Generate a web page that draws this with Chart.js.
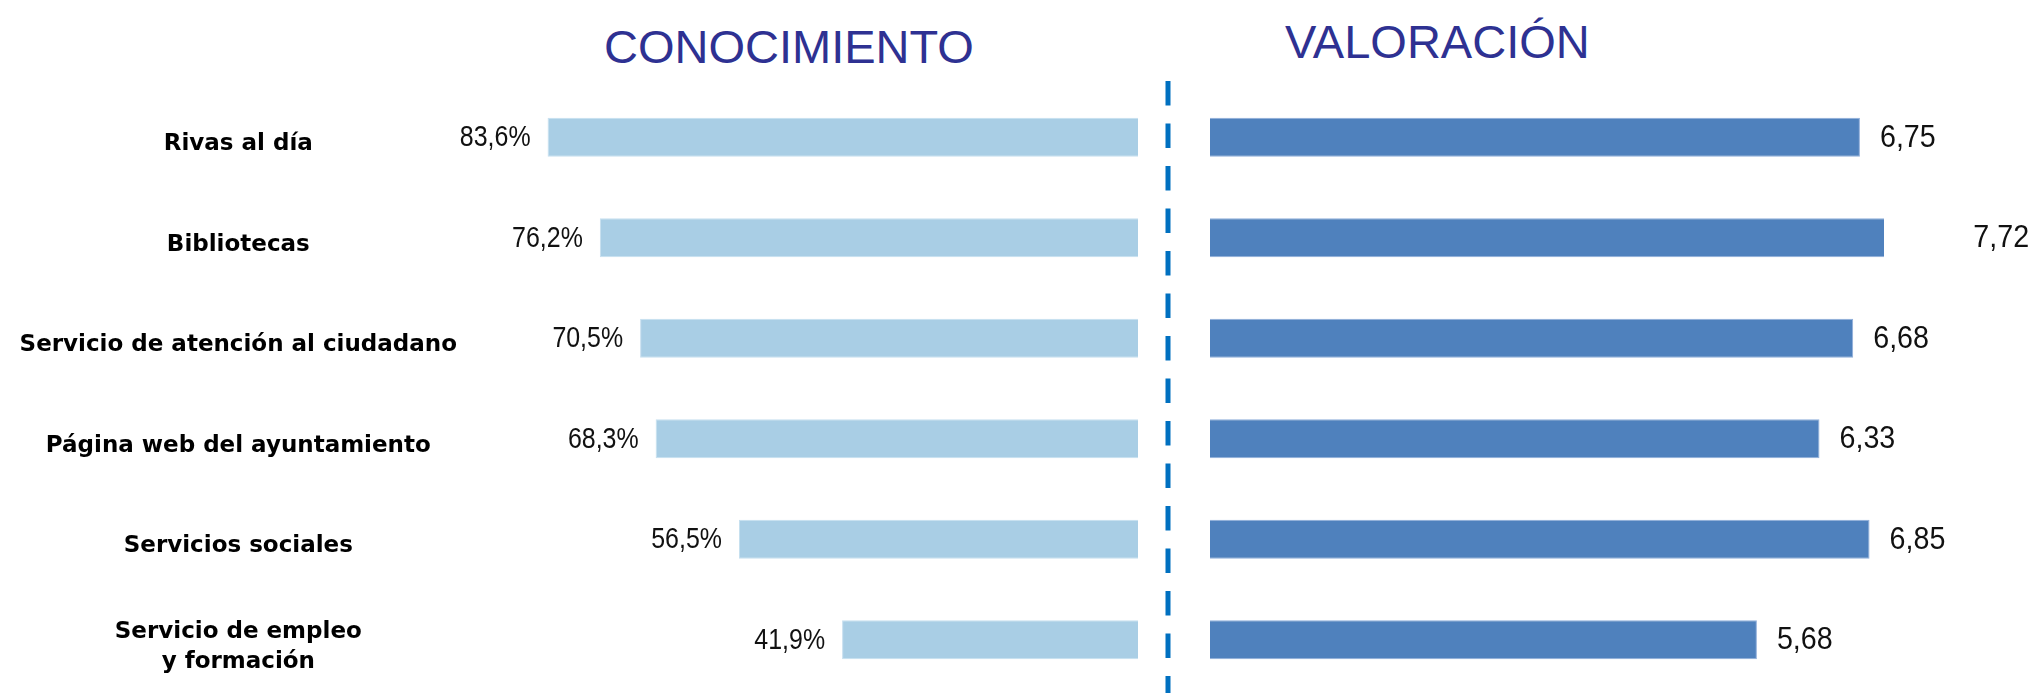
<!DOCTYPE html>
<html>
<head>
<meta charset="utf-8">
<script src="https://cdn.jsdelivr.net/npm/chart.js@4.4.0/dist/chart.umd.min.js"></script>
<style>
  body { margin: 0; background: #fff; width: 2033px; height: 693px; overflow: hidden; position: relative; }
  .title { position: absolute; font-family: "Liberation Sans", Arial, sans-serif; font-size: 47px; line-height: 47px; color: #2E3192; white-space: nowrap; }
  #leftBox { position: absolute; left: 0; top: 0; width: 1150px; height: 693px; }
  #rightBox { position: absolute; left: 1150px; top: 0; width: 883px; height: 693px; }
</style>
</head>
<body>
<div class="title" style="left:604px; top:23px;">CONOCIMIENTO</div>
<div class="title" style="left:1285px; top:18px;">VALORACIÓN</div>
<div id="leftBox"><canvas id="knowGraph"></canvas></div>
<div id="rightBox"><canvas id="rateGraph"></canvas></div>
<script>
const services = [
  'Rivas al día',
  'Bibliotecas',
  'Servicio de atención al ciudadano',
  'Página web del ayuntamiento',
  'Servicios sociales',
  ['Servicio de empleo', 'y formación']
];
const knowledge = [83.6, 76.2, 70.5, 68.3, 56.5, 41.9];   // % que conoce el servicio
const rating = [6.75, 7.72, 6.68, 6.33, 6.85, 5.68];      // nota media

// numbers next to the end of each bar, spanish decimal comma
const valueLabels = {
  id: 'valueLabels',
  afterDatasetsDraw(chart, args, opts) {
    const ctx = chart.ctx;
    const meta = chart.getDatasetMeta(0);
    const values = chart.data.datasets[0].data;
    ctx.save();
    ctx.font = opts.font;
    ctx.fillStyle = '#111';
    ctx.textBaseline = 'middle';
    ctx.textAlign = opts.align;
    meta.data.forEach((bar, i) => {
      const x = chart.scales.x.getPixelForValue(values[i]) + opts.gap;
      const txt = values[i].toFixed(opts.decimals).replace('.', ',') + opts.suffix;
      ctx.save();
      ctx.translate(x, bar.y + 1);
      ctx.scale(opts.squeeze, 1);   // the original font is a narrow one
      ctx.fillText(txt, 0, 0);
      ctx.restore();
    });
    ctx.restore();
  }
};

// blue dashed divider between the two halves
const divider = {
  id: 'divider',
  afterDraw(chart, args, opts) {
    const ctx = chart.ctx;
    ctx.save();
    ctx.strokeStyle = '#0070C0';
    ctx.lineWidth = 5;
    ctx.setLineDash([24.5, 18]);
    ctx.beginPath();
    ctx.moveTo(opts.x, 81);
    ctx.lineTo(opts.x, 693);
    ctx.stroke();
    ctx.restore();
  }
};

const knowGraph = new Chart(document.getElementById('knowGraph'), {
  type: 'bar',
  data: {
    labels: services,
    datasets: [{
      data: knowledge,
      backgroundColor: '#A9CEE5',
      borderColor: '#C6DFEF',
      borderWidth: 1,
      barPercentage: 0.39,
      categoryPercentage: 1,
      clip: 0
    }]
  },
  plugins: [valueLabels],
  options: {
    indexAxis: 'y',
    responsive: true,
    maintainAspectRatio: false,
    animation: false,
    layout: { padding: { top: 87, bottom: 3, left: 0, right: 12 } },
    plugins: {
      legend: { display: false },
      tooltip: { enabled: false },
      valueLabels: { font: '29px "Liberation Sans", sans-serif', align: 'right', gap: -17, decimals: 1, suffix: '%', squeeze: 0.86 }
    },
    scales: {
      x: { display: false, reverse: true, min: 0, max: 96 },
      y: {
        grid: { display: false, drawTicks: false },
        border: { display: false },
        ticks: {
          color: '#000',
          font: { family: '"DejaVu Sans", sans-serif', weight: 'bold', size: 23, lineHeight: 1.3 },
          crossAlign: 'center',
          padding: 3,
          labelOffset: 7
        },
        afterFit(scale) {
          scale.width = 460;
          // keep the plot area the same height as the right half
          scale.paddingTop = 0;
          scale.paddingBottom = 0;
        }
      }
    }
  }
});

const rateGraph = new Chart(document.getElementById('rateGraph'), {
  type: 'bar',
  data: {
    labels: services,
    datasets: [{
      data: rating,
      backgroundColor: '#4F81BD',
      borderColor: '#8FAEDA',
      borderWidth: 1,
      barPercentage: 0.39,
      categoryPercentage: 1,
      clip: 0
    }]
  },
  plugins: [valueLabels, divider],
  options: {
    indexAxis: 'y',
    responsive: true,
    maintainAspectRatio: false,
    animation: false,
    layout: { padding: { top: 87, bottom: 3, left: 60, right: 149 } },
    plugins: {
      legend: { display: false },
      tooltip: { enabled: false },
      valueLabels: { font: '31px "Liberation Sans", sans-serif', align: 'left', gap: 20, decimals: 2, suffix: '', squeeze: 0.925 },
      divider: { x: 18 }
    },
    scales: {
      x: { display: false, min: 0, max: 7 },
      y: { display: false }
    }
  }
});
</script>
</body>
</html>
